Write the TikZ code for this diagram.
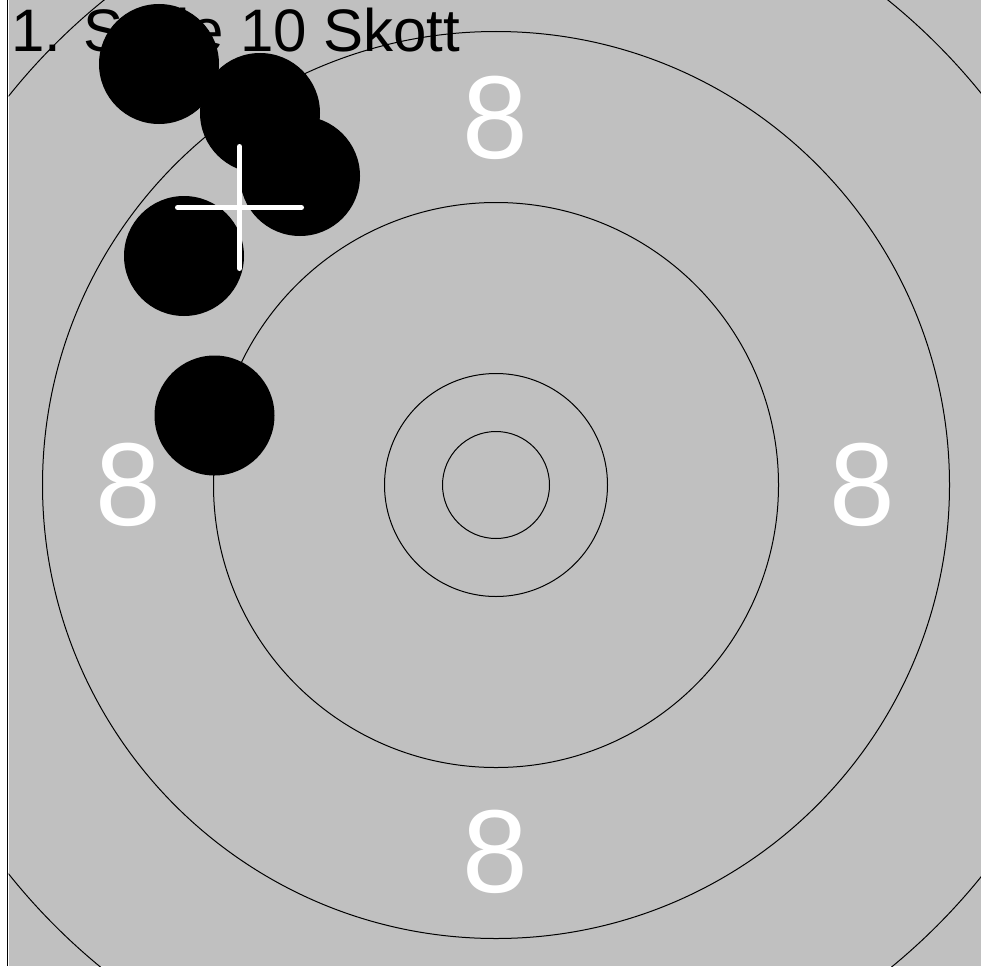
\documentclass[tikz,border=0pt]{standalone}
\usepackage{fontspec}
\setmainfont{Liberation Sans}
\definecolor{bggray}{RGB}{192,192,192}
\tikzset{
  ring/.style={draw=black, line width=1pt},
  shot/.style={fill=black},
  scorenum/.style={text=white, inner sep=0pt, font=\fontsize{118}{130}\selectfont},
  aimline/.style={draw=white, line width=5pt, line cap=round}
}
\begin{document}
\begin{tikzpicture}[x=1pt,y=-1pt]
\useasboundingbox (0,0) rectangle (981,966);
\fill[white] (0,0) rectangle (981,966);
\fill[bggray] (8.5,0) rectangle (981,966);
\draw[black, line width=1.2pt] (7.5,0) -- (7.5,966);
\begin{scope}
\clip (8.5,0) rectangle (981,966);
\node[anchor=base west, inner sep=0pt, font=\fontsize{60}{72}\selectfont] (title) at (11,52) {1. Serie 10 Skott};
\coordinate (c) at (496,485);
\draw[ring] (c) circle (53.5);
\draw[ring] (c) circle (111.5);
\draw[ring] (c) circle (282.5);
\draw[ring] (c) circle (453.5);
\draw[ring] (c) circle (623.5);
\node[scorenum] (n8t) at (495,118) {8};
\node[scorenum] (n8l) at (128.5,485) {8};
\node[scorenum] (n8r) at (862,485) {8};
\node[scorenum] (n8b) at (495,852) {8};
\fill[shot] (159,64) circle (60);
\fill[shot] (260,113) circle (60);
\fill[shot] (300,176) circle (60);
\fill[shot] (184,256) circle (60);
\fill[shot] (214.5,415.5) circle (60);
\coordinate (cr) at (239.5,207.5);
\draw[aimline] ([xshift=-62pt]cr) -- ([xshift=62pt]cr);
\draw[aimline] ([yshift=61pt]cr) -- ([yshift=-61pt]cr);
\end{scope}
\end{tikzpicture}
\end{document}
